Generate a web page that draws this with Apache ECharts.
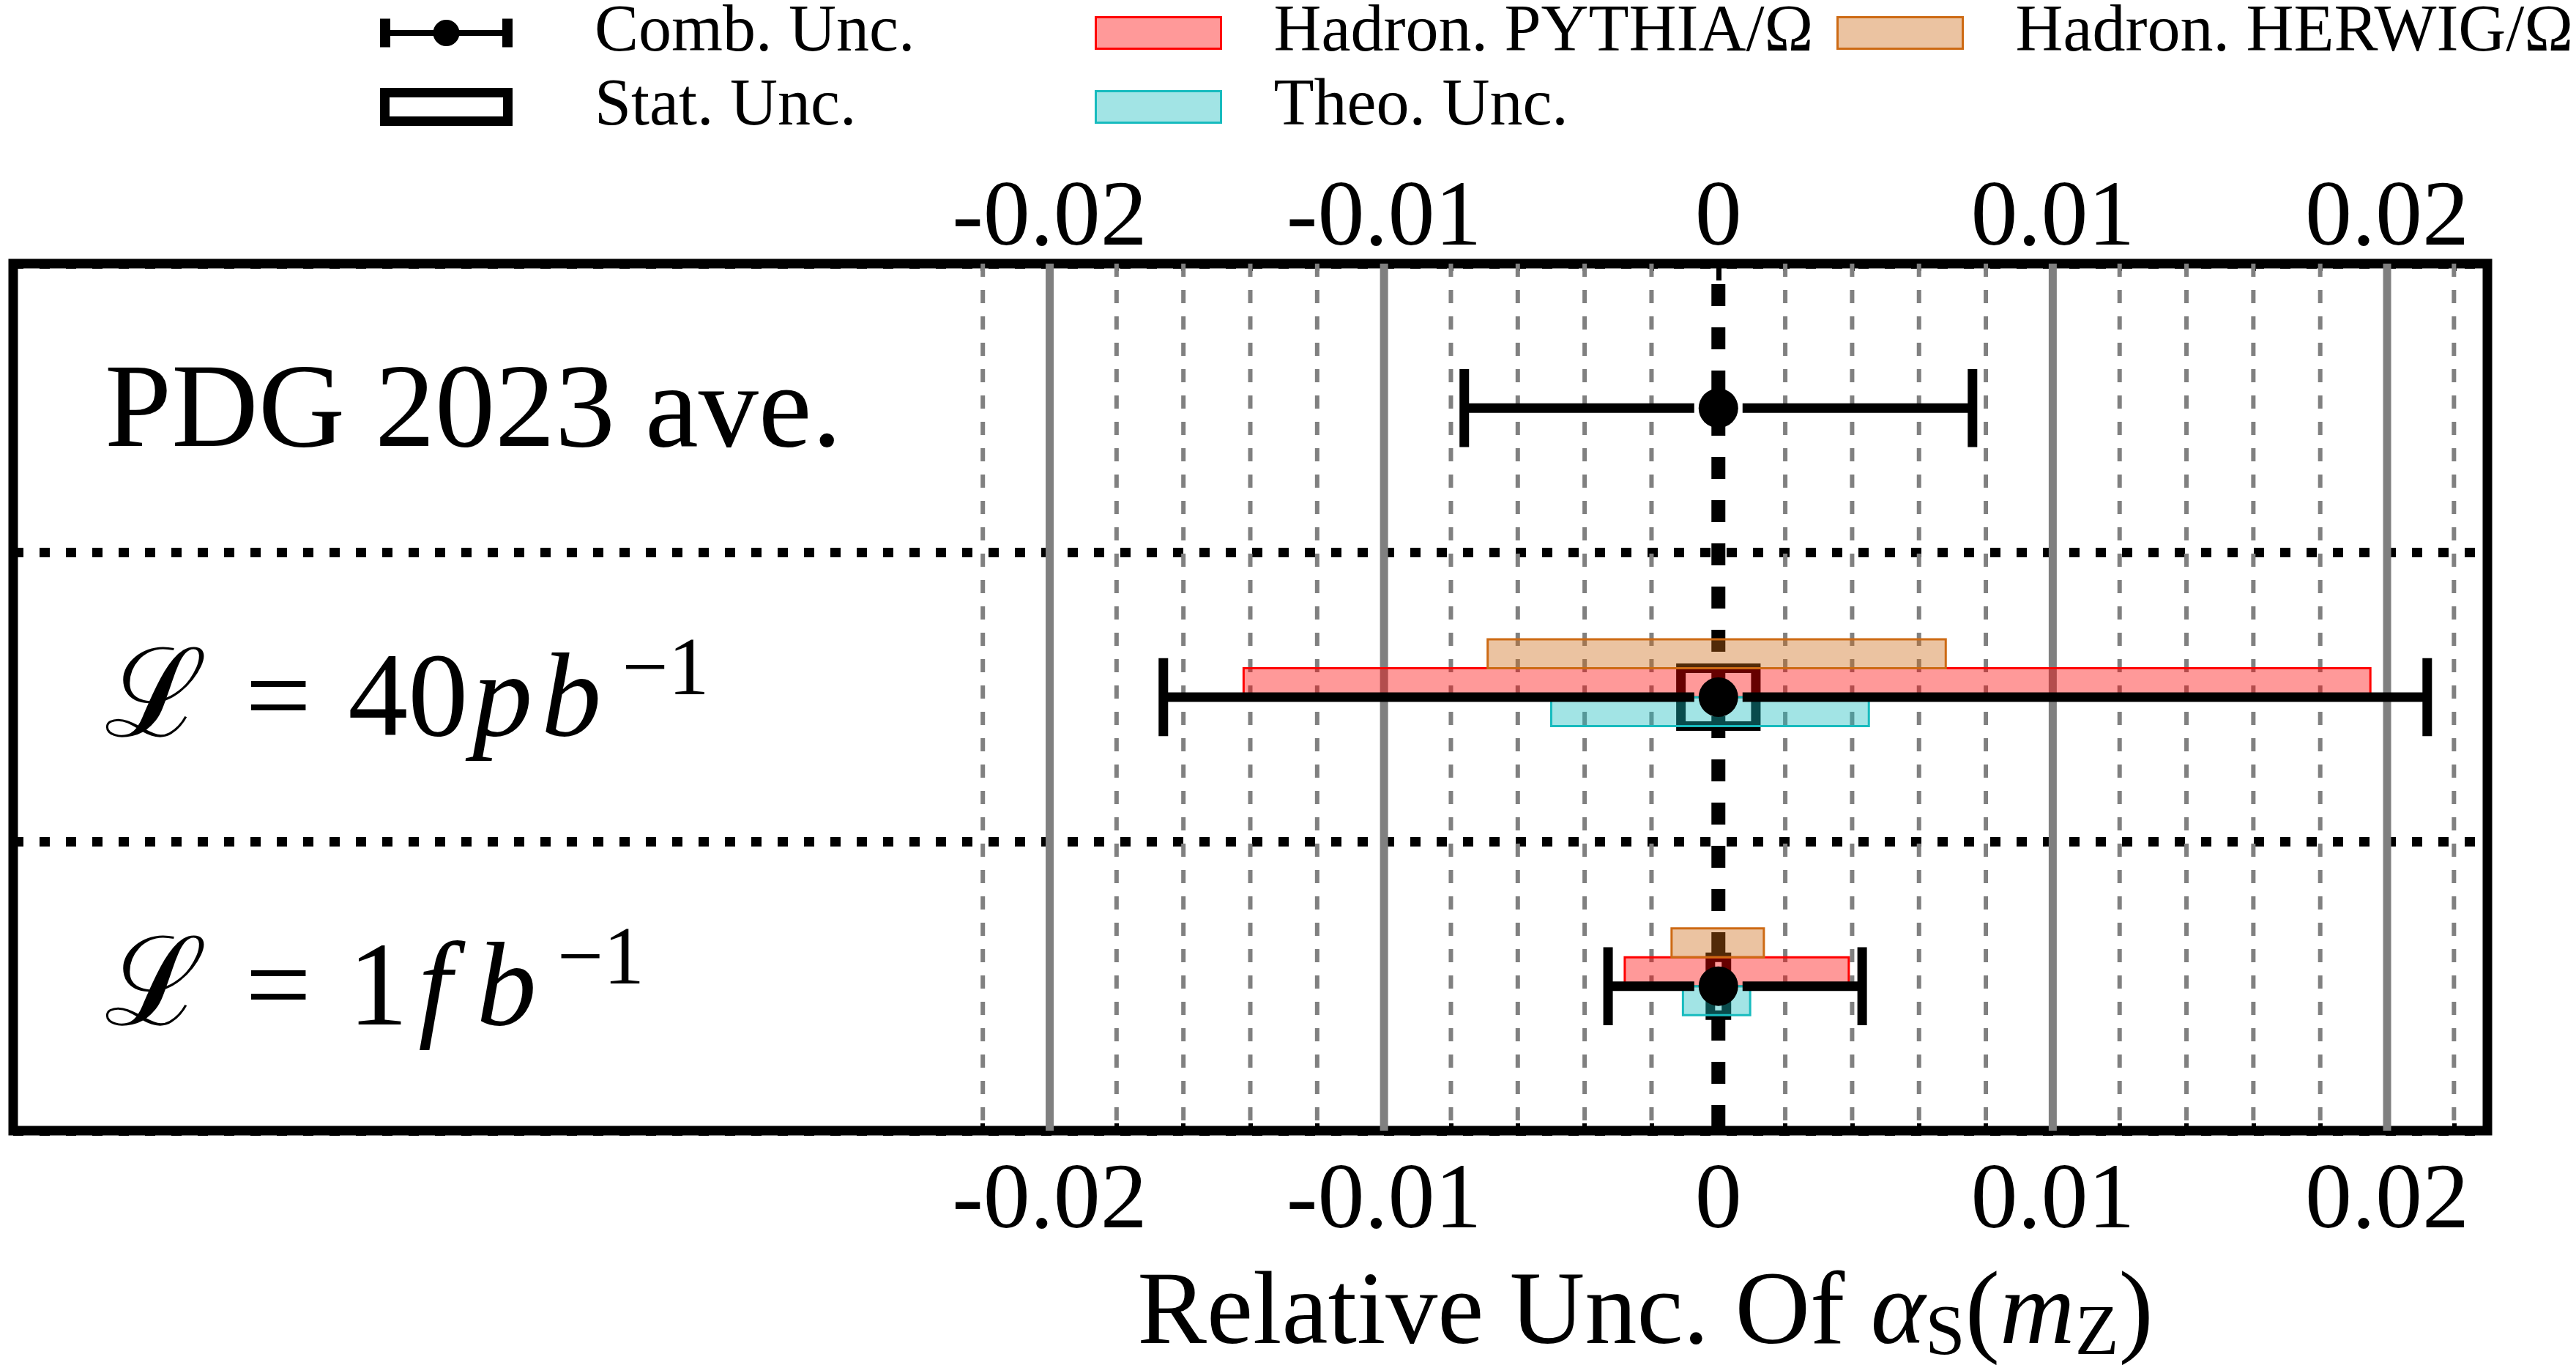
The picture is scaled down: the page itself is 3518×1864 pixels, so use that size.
<!DOCTYPE html>
<html>
<head>
<meta charset="utf-8">
<script src="https://cdn.jsdelivr.net/npm/echarts@6/dist/echarts.min.js"></script>
<style>html,body{margin:0;padding:0;background:#fff}#c{width:3518px;height:1864px}</style>
</head>
<body>
<div id="c"></div>
<script>
// ---------------- data ----------------
const rowLabels = ['PDG 2023 ave.', '{sc|ℒ}{eq|=}40{itp|p}{it|b}{sup|−1}', '{sc|ℒ}{eq|=}1{itf|f}{it|b}{sup|−1}'];
const rowPos = [0.5, 1.5, 2.5];
const centerVal = [0, 0, 0];
const combLo = [-0.0076, -0.0166, -0.0033];
const combHi = [0.0076, 0.0212, 0.0043];
// rows with a measurement (40 pb^-1, 1 fb^-1)
const measRows = [1.5, 2.5];
const statLo = [-0.00112, -0.00024];
const statHi = [0.00112, 0.00024];
const pythiaLo = [-0.0142, -0.0028];
const pythiaHi = [0.0195, 0.0039];
const herwigLo = [-0.0069, -0.0014];
const herwigHi = [0.0068, 0.00136];
const theoLo = [-0.0050, -0.00106];
const theoHi = [0.0045, 0.00095];
const xTickValues = [-0.02, -0.01, 0, 0.01, 0.02];
const xTickLabels = ['-0.02', '-0.01', '0', '0.01', '0.02'];
const minorTickValues = [-0.022, -0.018, -0.016, -0.014, -0.012, -0.008, -0.006, -0.004, -0.002,
  0.002, 0.004, 0.006, 0.008, 0.012, 0.014, 0.016, 0.018, 0.022];
const solidGridValues = [-0.02, -0.01, 0.01, 0.02];
const zeroLineValues = [0];
const seriesNames = ['Comb. Unc.', 'Stat. Unc.', 'Hadron. PYTHIA/Ω', 'Theo. Unc.', 'Hadron. HERWIG/Ω'];

// ---------------- styles ----------------
const SERIF = 'Liberation Serif';
const colPythia = 'rgb(255,0,0)', fillPythia = 'rgba(255,0,0,0.4)';
const colHerwig = 'rgb(205,106,20)', fillHerwig = 'rgba(205,106,20,0.4)';
const colTheo = 'rgb(23,187,190)', fillTheo = 'rgba(23,187,190,0.4)';

const chart = echarts.init(document.getElementById('c'), null, {renderer: 'canvas', width: 3518, height: 1864});

function vline(stroke, lw, dash, dashOffset) {
  return function (params, api) {
    const v = api.value(0);
    const a = api.coord([v, 0]);
    const b = api.coord([v, 3]);
    return {type: 'line', shape: {x1: a[0], y1: a[1], x2: b[0], y2: b[1]},
      style: {stroke: stroke, lineWidth: lw, lineDash: dash || null, lineDashOffset: dashOffset || 0}};
  };
}
function band(dy0, dy1, fill, stroke, lw) {
  return function (params, api) {
    const y = api.value(0), lo = api.value(1), hi = api.value(2);
    const p0 = api.coord([lo, y + dy0]);
    const p1 = api.coord([hi, y + dy1]);
    return {type: 'rect', shape: {x: p0[0], y: p0[1], width: p1[0] - p0[0], height: p1[1] - p0[1]},
      style: {fill: fill, stroke: stroke, lineWidth: lw}};
  };
}
function combRender(params, api) {
  const y = api.value(0), c = api.value(1), lo = api.value(2), hi = api.value(3);
  const pc = api.coord([c, y]);
  const pl = api.coord([lo, y]);
  const ph = api.coord([hi, y]);
  const capT = api.coord([lo, y - 0.135])[1];
  const capB = api.coord([lo, y + 0.135])[1];
  const r = 27, gap = 33;
  const st = {stroke: '#000', lineWidth: 13};
  return {type: 'group', children: [
    {type: 'line', shape: {x1: pl[0], y1: pl[1], x2: pc[0] - gap, y2: pc[1]}, style: st},
    {type: 'line', shape: {x1: pc[0] + gap, y1: pc[1], x2: ph[0], y2: ph[1]}, style: st},
    {type: 'line', shape: {x1: pl[0], y1: capT, x2: pl[0], y2: capB}, style: st},
    {type: 'line', shape: {x1: ph[0], y1: capT, x2: ph[0], y2: capB}, style: st},
    {type: 'circle', shape: {cx: pc[0], cy: pc[1], r: r}, style: {fill: '#000'}}
  ]};
}

const combIcon = 'path://M0,0 H14 V39 H0 Z M167,0 H181 V39 H167 Z M14,15.5 H167 V23.5 H14 Z M72.5,19.5 A18,18 0 1,1 108.5,19.5 A18,18 0 1,1 72.5,19.5 Z';
const statIcon = 'path://M0,0 H181 V52 H0 Z M13,13 V39 H168 V13 Z';

const xBase = {type: 'value', min: -0.051, max: 0.023, gridIndex: 0,
  axisLine: {show: false, onZero: false}, splitLine: {show: false}};
function xAxisDef(pos, major) {
  return Object.assign({}, xBase, {
    position: pos,
    axisTick: {show: true, inside: true, length: major ? 23 : 10,
      customValues: major ? xTickValues : minorTickValues,
      lineStyle: {color: '#000', width: major ? 7 : 6}},
    axisLabel: major ? {show: true, customValues: xTickValues,
      formatter: function (v) { const i = xTickValues.findIndex(t => Math.abs(t - v) < 1e-9); return i >= 0 ? xTickLabels[i] : ''; },
      fontFamily: SERIF, fontSize: 128, color: '#000', margin: pos === 'top' ? -4 : 34} : {show: false}
  });
}

const legendText = {fontFamily: SERIF, fontSize: 90, color: '#000'};

const option = {
  backgroundColor: '#fff',
  animation: false,
  grid: {left: 18, top: 360, width: 3379, height: 1184, show: true, borderColor: '#000', borderWidth: 13,
    containLabel: false, outerBoundsMode: 'none'},
  xAxis: [xAxisDef('bottom', true), xAxisDef('bottom', false), xAxisDef('top', true), xAxisDef('top', false)],
  yAxis: {type: 'value', min: 0, max: 3, interval: 1, inverse: true,
    axisLine: {show: false, onZero: false}, axisTick: {show: false},
    splitLine: {show: true, lineStyle: {color: '#000', width: 13, type: [14, 22]}},
    axisLabel: {show: true, inside: true, margin: 125, customValues: rowPos,
      formatter: function (v) { const i = rowPos.findIndex(t => Math.abs(t - v) < 1e-9); return i >= 0 ? rowLabels[i] : ''; },
      fontFamily: SERIF, fontSize: 164, color: '#000', padding: [18, 0, 0, 0],
      rich: {
        sc: {fontFamily: 'DejaVu Serif', fontSize: 168, color: '#000'},
        eq: {fontFamily: SERIF, fontSize: 160, color: '#000', padding: [0, 50, 0, 52]},
        it: {fontFamily: SERIF, fontStyle: 'italic', fontSize: 164, color: '#000'},
        itp: {fontFamily: SERIF, fontStyle: 'italic', fontSize: 164, color: '#000', padding: [0, 12, 0, 6]},
        itf: {fontFamily: SERIF, fontStyle: 'italic', fontSize: 164, color: '#000', padding: [0, 34, 0, 14]},
        sup: {fontFamily: SERIF, fontSize: 112, color: '#000', padding: [0, 0, 84, 28]}
      }}
  },
  legend: [
    {left: 519, top: 0, orient: 'vertical', padding: 0, itemWidth: 181, itemHeight: 52, itemGap: 11,
      selectedMode: false, symbolKeepAspect: true,
      textStyle: Object.assign({padding: [0, 0, 0, 107]}, legendText),
      data: [
        {name: seriesNames[0], icon: combIcon, itemStyle: {color: '#000', borderWidth: 0}},
        {name: seriesNames[1], icon: statIcon, itemStyle: {color: '#000', borderWidth: 0}}
      ]},
    {left: 1495, top: 0, orient: 'vertical', padding: 0, itemWidth: 171, itemHeight: 43, itemGap: 11,
      selectedMode: false,
      textStyle: Object.assign({padding: [0, 0, 0, 67]}, legendText),
      data: [
        {name: seriesNames[2], icon: 'rect', itemStyle: {color: fillPythia, borderColor: colPythia, borderWidth: 3}},
        {name: seriesNames[3], icon: 'rect', itemStyle: {color: fillTheo, borderColor: colTheo, borderWidth: 3}}
      ]},
    {left: 2508, top: 0, orient: 'vertical', padding: 0, itemWidth: 171, itemHeight: 43, itemGap: 11,
      selectedMode: false,
      textStyle: Object.assign({padding: [0, 0, 0, 67]}, legendText),
      data: [
        {name: seriesNames[4], icon: 'rect', itemStyle: {color: fillHerwig, borderColor: colHerwig, borderWidth: 3}}
      ]}
  ],
  graphic: [{
    type: 'text', x: 2247, y: 1797, z: 10,
    style: {
      text: 'Relative Unc. Of {it|α}{sub|S}({it|m}{sub|Z})',
      fontFamily: SERIF, fontSize: 142, fill: '#000', align: 'center', verticalAlign: 'middle',
      rich: {
        it: {fontFamily: SERIF, fontStyle: 'italic', fontSize: 142, fill: '#000'},
        sub: {fontFamily: SERIF, fontSize: 98, fill: '#000', padding: [52, 0, 0, 0]}
      }
    }
  }],
  series: [
    {type: 'custom', name: 'minorGrid', silent: true, z: 1, xAxisIndex: 0, yAxisIndex: 0,
      data: minorTickValues.map(v => [v]), encode: {x: 0},
      renderItem: vline('#808080', 6, [18, 18], 0)},
    {type: 'custom', name: 'majorGrid', silent: true, z: 1, xAxisIndex: 0, yAxisIndex: 0,
      data: solidGridValues.map(v => [v]), encode: {x: 0},
      renderItem: vline('#808080', 11, null, 0)},
    {type: 'custom', name: 'zeroLine', silent: true, z: 2, xAxisIndex: 0, yAxisIndex: 0,
      data: zeroLineValues.map(v => [v]), encode: {x: 0},
      renderItem: vline('#000', 19, [30, 29], 31)},
    {type: 'custom', name: seriesNames[1], z: 3, xAxisIndex: 0, yAxisIndex: 0, itemStyle: {color: '#000'},
      data: measRows.map((r, i) => [r, statLo[i], statHi[i]]), encode: {y: 0, x: [1, 2]},
      renderItem: band(-0.1, 0.1, 'none', '#000', 13)},
    {type: 'custom', name: seriesNames[2], z: 4, xAxisIndex: 0, yAxisIndex: 0, itemStyle: {color: fillPythia},
      data: measRows.map((r, i) => [r, pythiaLo[i], pythiaHi[i]]), encode: {y: 0, x: [1, 2]},
      renderItem: band(-0.1, 0, fillPythia, colPythia, 3)},
    {type: 'custom', name: seriesNames[3], z: 4, xAxisIndex: 0, yAxisIndex: 0, itemStyle: {color: fillTheo},
      data: measRows.map((r, i) => [r, theoLo[i], theoHi[i]]), encode: {y: 0, x: [1, 2]},
      renderItem: band(0, 0.1, fillTheo, colTheo, 3)},
    {type: 'custom', name: seriesNames[4], z: 4, xAxisIndex: 0, yAxisIndex: 0, itemStyle: {color: fillHerwig},
      data: measRows.map((r, i) => [r, herwigLo[i], herwigHi[i]]), encode: {y: 0, x: [1, 2]},
      renderItem: band(-0.2, -0.1, fillHerwig, colHerwig, 3)},
    {type: 'custom', name: seriesNames[0], z: 5, xAxisIndex: 0, yAxisIndex: 0, itemStyle: {color: '#000'},
      data: rowPos.map((r, i) => [r, centerVal[i], combLo[i], combHi[i]]), encode: {y: 0, x: [1, 2, 3]},
      renderItem: combRender}
  ]
};
chart.setOption(option);
</script>
</body>
</html>
